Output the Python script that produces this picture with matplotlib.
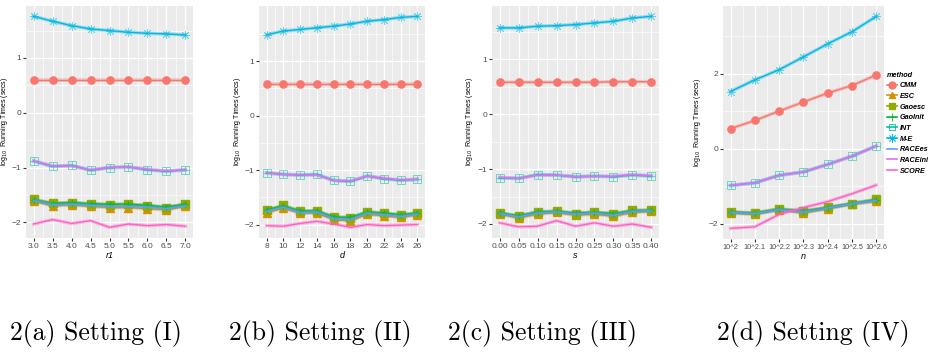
import matplotlib.pyplot as plt
from matplotlib.lines import Line2D

plt.rcParams['font.family'] = ['Liberation Sans', 'DejaVu Sans']

methods = ["CMM", "ESC", "Gaoesc", "GaoInit", "INT", "M-E", "RACEes", "RACEini", "SCORE"]

# setting (I): r1
r1 = [3.0, 3.5, 4.0, 4.5, 5.0, 5.5, 6.0, 6.5, 7.0]
a_cmm = [0.59, 0.59, 0.59, 0.59, 0.59, 0.59, 0.59, 0.59, 0.59]
a_esc = [-1.61, -1.70, -1.68, -1.71, -1.73, -1.73, -1.75, -1.77, -1.71]
a_gaoesc = [-1.58, -1.65, -1.64, -1.67, -1.68, -1.67, -1.70, -1.73, -1.67]
a_gaoinit = [-1.59, -1.66, -1.64, -1.66, -1.67, -1.67, -1.69, -1.72, -1.67]
a_int = [-0.88, -0.98, -0.96, -1.05, -1.00, -0.99, -1.04, -1.07, -1.04]
a_me = [1.76, 1.67, 1.59, 1.53, 1.50, 1.47, 1.45, 1.44, 1.42]
a_racees = [-1.60, -1.68, -1.67, -1.69, -1.71, -1.71, -1.72, -1.75, -1.70]
a_raceini = [-0.88, -0.97, -0.97, -1.04, -1.00, -0.99, -1.03, -1.06, -1.04]
a_score = [-2.03, -1.95, -2.02, -1.97, -2.09, -2.03, -2.06, -2.04, -2.07]

# setting (II): d
d = [8, 10, 12, 14, 16, 18, 20, 22, 24, 26]
b_cmm = [0.58, 0.58, 0.58, 0.58, 0.58, 0.58, 0.58, 0.58, 0.58, 0.58]
b_esc = [-1.78, -1.70, -1.79, -1.79, -1.91, -1.93, -1.81, -1.84, -1.87, -1.82]
b_gaoesc = [-1.73, -1.65, -1.76, -1.75, -1.87, -1.88, -1.77, -1.79, -1.83, -1.79]
b_gaoinit = [-1.73, -1.66, -1.75, -1.75, -1.86, -1.87, -1.77, -1.79, -1.82, -1.79]
b_int = [-1.05, -1.08, -1.09, -1.08, -1.19, -1.21, -1.11, -1.16, -1.19, -1.17]
b_me = [1.48, 1.55, 1.58, 1.61, 1.64, 1.68, 1.73, 1.76, 1.80, 1.82]
b_racees = [-1.76, -1.68, -1.78, -1.77, -1.89, -1.91, -1.79, -1.82, -1.85, -1.81]
b_raceini = [-1.05, -1.08, -1.09, -1.09, -1.19, -1.20, -1.11, -1.15, -1.18, -1.17]
b_score = [-2.02, -2.03, -1.98, -1.94, -1.99, -2.05, -2.00, -2.02, -2.01, -2.00]

# setting (III): s
s = [0.00, 0.05, 0.10, 0.15, 0.20, 0.25, 0.30, 0.35, 0.40]
c_cmm = [0.58, 0.58, 0.58, 0.58, 0.58, 0.58, 0.59, 0.59, 0.59]
c_esc = [-1.82, -1.89, -1.82, -1.79, -1.84, -1.82, -1.86, -1.79, -1.77]
c_gaoesc = [-1.80, -1.86, -1.78, -1.77, -1.81, -1.78, -1.82, -1.75, -1.75]
c_gaoinit = [-1.80, -1.85, -1.78, -1.77, -1.80, -1.79, -1.81, -1.76, -1.75]
c_int = [-1.16, -1.17, -1.10, -1.11, -1.14, -1.13, -1.14, -1.11, -1.13]
c_me = [1.57, 1.57, 1.60, 1.61, 1.63, 1.66, 1.69, 1.75, 1.78]
c_racees = [-1.81, -1.87, -1.80, -1.78, -1.82, -1.80, -1.84, -1.77, -1.76]
c_raceini = [-1.15, -1.17, -1.11, -1.11, -1.14, -1.13, -1.13, -1.10, -1.12]
c_score = [-1.98, -2.05, -2.04, -1.94, -2.04, -1.98, -2.04, -2.00, -2.06]

# setting (IV): n
n = [2.0, 2.1, 2.2, 2.3, 2.4, 2.5, 2.6]
n_labels = ["10^2", "10^2.1", "10^2.2", "10^2.3", "10^2.4", "10^2.5", "10^2.6"]
d_cmm = [0.53, 0.75, 1.00, 1.24, 1.48, 1.68, 1.96]
d_esc = [-1.71, -1.75, -1.63, -1.71, -1.60, -1.48, -1.40]
d_gaoesc = [-1.68, -1.71, -1.60, -1.66, -1.56, -1.46, -1.35]
d_gaoinit = [-1.69, -1.72, -1.61, -1.67, -1.57, -1.46, -1.36]
d_int = [-0.98, -0.91, -0.71, -0.62, -0.42, -0.20, 0.07]
d_me = [1.52, 1.83, 2.10, 2.44, 2.79, 3.11, 3.52]
d_racees = [-1.70, -1.73, -1.62, -1.69, -1.58, -1.47, -1.38]
d_raceini = [-0.98, -0.91, -0.71, -0.62, -0.42, -0.20, 0.07]
d_score = [-2.12, -2.08, -1.75, -1.57, -1.41, -1.20, -0.97]

colors = ["#F8766D", "#D39200", "#93AA00", "#00BA38", "#00C19F",
          "#00B9E3", "#619CFF", "#DB72FB", "#FF61C3"]
markers = ["o", "^", "s", "+", "s", (8, 2, 0), None, None, None]

panels = [
    (r1, [a_cmm, a_esc, a_gaoesc, a_gaoinit, a_int, a_me, a_racees, a_raceini, a_score], "r1"),
    (d, [b_cmm, b_esc, b_gaoesc, b_gaoinit, b_int, b_me, b_racees, b_raceini, b_score], "d"),
    (s, [c_cmm, c_esc, c_gaoesc, c_gaoinit, c_int, c_me, c_racees, c_raceini, c_score], "s"),
    (n, [d_cmm, d_esc, d_gaoesc, d_gaoinit, d_int, d_me, d_racees, d_raceini, d_score], "n"),
]
boxes = [[0.028, 0.343, 0.179, 0.641],
         [0.278, 0.343, 0.178, 0.641],
         [0.528, 0.343, 0.179, 0.641],
         [0.776, 0.340, 0.172, 0.644]]
ylab_x = [-0.095, -0.095, -0.10, -0.125]
captions = ["2(a) Setting (I)", "2(b) Setting (II)", "2(c) Setting (III)", "2(d) Setting (IV)"]
cap_x = [96, 320, 543, 813]

fig = plt.figure(figsize=(9.32, 3.62), dpi=100)

def draw_series(ax, x, y, i):
    c = colors[i]
    # soft halo under each line, as in the reference
    ax.plot(x, y, color=c, lw=2.6, alpha=0.35, zorder=3 + i)
    ax.plot(x, y, color=c, lw=1.0, zorder=3 + i)
    m = markers[i]
    if m is None:
        return
    if i == 4:
        # square with a cross inside
        ax.plot(x, y, ls="none", marker="s", ms=5.5, mfc="none", mec=c, mew=0.6, alpha=0.6, zorder=3 + i)
        ax.plot(x, y, ls="none", marker="+", ms=5.5, mec=c, mew=0.6, alpha=0.6, zorder=3 + i)
    elif i == 5:
        ax.plot(x, y, ls="none", marker=m, ms=6.5, mec=c, mew=0.6, alpha=0.55, zorder=3 + i)
    elif i == 3:
        ax.plot(x, y, ls="none", marker=m, ms=5, mec=c, mew=0.8, zorder=3 + i)
    else:
        ax.plot(x, y, ls="none", marker=m, ms=5.2, mfc=c, mec=c, zorder=3 + i)

for k, (x, series, xlab) in enumerate(panels):
    ax = fig.add_axes(boxes[k])
    ax.set_facecolor("#EBEBEB")
    for i, y in enumerate(series):
        draw_series(ax, x, y, i)
    ax.margins(x=0.05, y=0.05)
    if k < 3:
        ax.set_yticks([-2, -1, 0, 1])
        ax.set_yticks([-1.5, -0.5, 0.5, 1.5], minor=True)
    else:
        ax.set_yticks([-2, 0, 2])
        ax.set_yticks([-1, 1, 3], minor=True)
    ax.set_xticks(x)
    if k == 0:
        ax.set_xticklabels([f"{v:.1f}" for v in x])
    elif k == 2:
        ax.set_xticklabels([f"{v:.2f}" for v in x])
    elif k == 3:
        ax.set_xticklabels(n_labels)
    xt = ax.get_xticks()
    ax.set_xticks([(xt[j] + xt[j + 1]) / 2 for j in range(len(xt) - 1)], minor=True)
    ax.grid(True, which="major", color="white", lw=0.9)
    ax.grid(True, which="minor", color="white", lw=0.45)
    ax.set_axisbelow(True)
    for sp in ax.spines.values():
        sp.set_visible(False)
    ax.tick_params(which="both", length=2, color="#333333", labelsize=6, labelcolor="#4D4D4D", pad=1.5)
    ax.tick_params(which="minor", length=0)
    if k == 3:
        ax.tick_params(axis="x", labelsize=5.3)
    ax.set_xlabel(xlab, fontsize=6.5, style="italic", labelpad=1)
    ax.set_ylabel(r"log$_{10}$  Running Times (secs)", fontsize=5.0)
    ax.yaxis.set_label_coords(ylab_x[k], 0.5)
    fig.text(cap_x[k] / 932, 0.08, captions[k], family="cmr10", fontsize=18.5,
             ha="center", va="center")

# legend for the last panel
handles = []
for i, name in enumerate(methods):
    m = markers[i]
    if m is None:
        h = Line2D([], [], color=colors[i], lw=1.2)
    elif i == 4:
        h = Line2D([], [], color=colors[i], lw=1.2, marker="s", ms=5, mfc="none", mew=0.6)
    elif i in (0, 1, 2):
        h = Line2D([], [], color=colors[i], lw=1.2, marker=m, ms=5, mfc=colors[i])
    else:
        h = Line2D([], [], color=colors[i], lw=1.2, marker=m, ms=6, mew=0.6)
    handles.append(h)
fig.legend(handles, methods, loc="upper left", bbox_to_anchor=(0.949, 0.81),
           frameon=False, title="method", handlelength=1.3, handletextpad=0.4,
           labelspacing=0.5, borderaxespad=0,
           prop={"size": 5.2, "weight": "bold", "style": "italic"},
           title_fontproperties={"size": 5.2, "weight": "bold", "style": "italic"},
           alignment="left")

fig.savefig("out.png", dpi=100)
